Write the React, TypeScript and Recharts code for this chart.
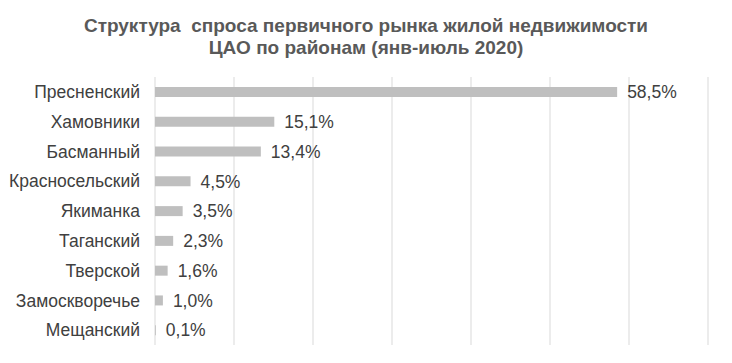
import { BarChart, Bar, XAxis, YAxis, CartesianGrid, LabelList } from "recharts";

// Доля спроса по районам ЦАО, %
const districts = [
  "Пресненский",
  "Хамовники",
  "Басманный",
  "Красносельский",
  "Якиманка",
  "Таганский",
  "Тверской",
  "Замоскворечье",
  "Мещанский",
];
const shares = [58.5, 15.1, 13.4, 4.5, 3.5, 2.3, 1.6, 1.0, 0.1];
const xTicks = [0, 10, 20, 30, 40, 50, 60, 70];

const data = districts.map((name, i) => ({ name, share: shares[i] }));

const font = "'Liberation Sans', Arial, sans-serif";

export default function App() {
  return (
    <div style={{ position: "absolute", left: 0, top: 0, width: 732, height: 363, background: "#fff", fontFamily: font }}>
      <div
        style={{
          position: "absolute",
          left: 0,
          top: 15,
          width: 732,
          textAlign: "center",
          fontFamily: font,
          fontWeight: "bold",
          fontSize: 19,
          lineHeight: "22px",
          color: "#595959",
        }}
      >
        Структура&nbsp; спроса первичного рынка жилой недвижимости
        <br />
        ЦАО по районам (янв-июль 2020)
      </div>
      <BarChart
        width={732}
        height={363}
        data={data}
        layout="vertical"
        margin={{ top: 77, right: 24, bottom: 18, left: 0 }}
        barSize={10}
      >
        <CartesianGrid horizontal={false} stroke="#d9d9d9" />
        <XAxis type="number" domain={[0, 70]} ticks={xTicks} hide />
        <YAxis
          type="category"
          dataKey="name"
          width={155}
          axisLine={false}
          tickLine={false}
          tickSize={0}
          tickMargin={15}
          tick={{ fill: "#404040", fontSize: 17.5, fontFamily: font }}
        />
        <Bar dataKey="share" fill="#bfbfbf" isAnimationActive={false}>
          <LabelList
            dataKey="share"
            position="right"
            offset={10}
            fill="#404040"
            fontSize={17.5}
            fontFamily={font}
            formatter={(v: number) => `${v.toFixed(1).replace(".", ",")}%`}
          />
        </Bar>
      </BarChart>
    </div>
  );
}
